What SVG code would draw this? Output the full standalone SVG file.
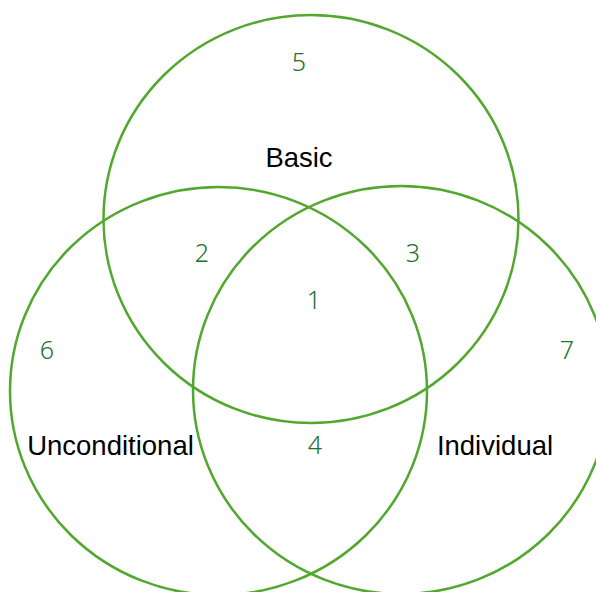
<svg xmlns="http://www.w3.org/2000/svg" width="596" height="592" viewBox="0 0 596 592">
<style>
.c{fill:none;stroke:#52a82f;stroke-width:2.5}
.n{font-family:"Noto Sans","DejaVu Sans",sans-serif;font-weight:300;font-size:25px;fill:#226f2c;text-anchor:middle}
.l{font-family:"Liberation Sans",Arial,sans-serif;font-size:27.5px;fill:#000;text-anchor:middle}
</style>
<rect width="596" height="592" fill="#fff"/>
<g id="connectors"></g>
<g id="basic"><ellipse class="c" cx="311" cy="219" rx="207.5" ry="204"/><text class="l" x="299" y="167">Basic</text></g>
<g id="unconditional"><ellipse class="c" cx="218.5" cy="391" rx="208.5" ry="204"/><text class="l" x="110.5" y="455">Unconditional</text></g>
<g id="individual"><ellipse class="c" cx="401" cy="390" rx="208" ry="204"/><text class="l" x="495" y="455">Individual</text></g>
<g id="n5"><text class="n" x="299" y="71">5</text></g>
<g id="n2"><text class="n" x="202" y="262">2</text></g>
<g id="n3"><text class="n" x="413" y="262">3</text></g>
<g id="n1"><text class="n" x="314" y="309">1</text></g>
<g id="n6"><text class="n" x="47" y="359">6</text></g>
<g id="n7"><text class="n" x="567" y="359">7</text></g>
<g id="n4"><text class="n" x="315" y="454">4</text></g>
</svg>
